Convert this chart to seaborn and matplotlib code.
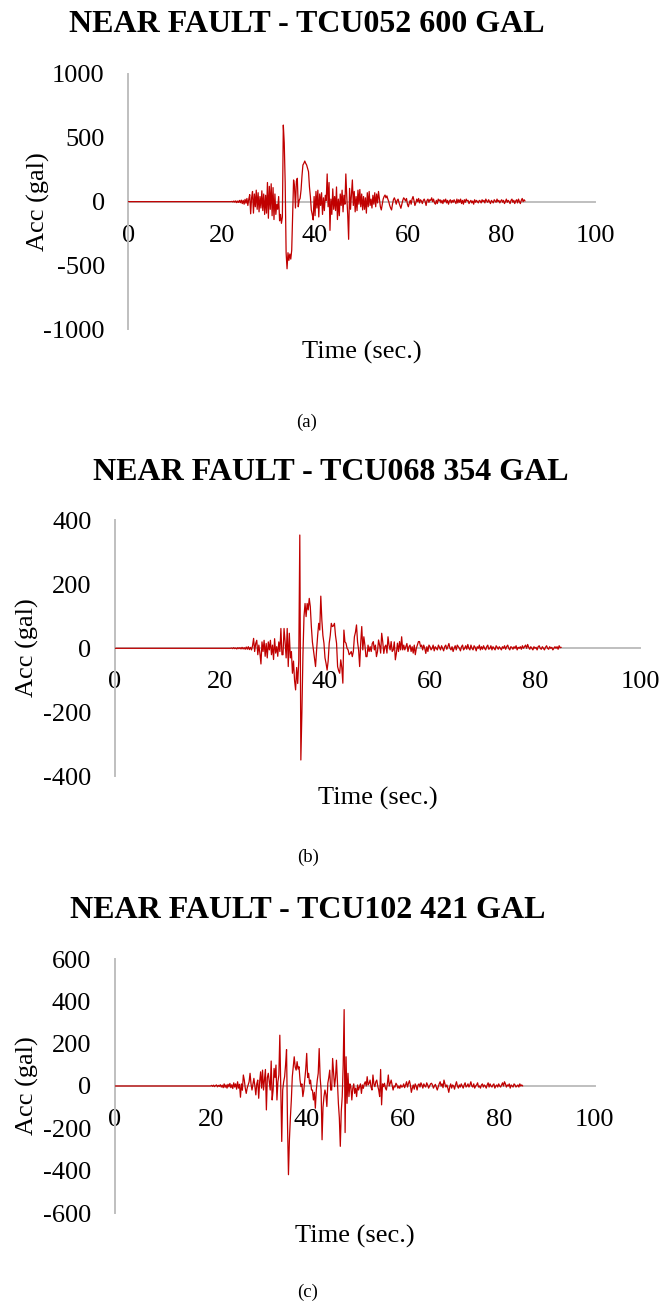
import numpy as np
import pandas as pd
import matplotlib
matplotlib.use("Agg")
import matplotlib.pyplot as plt
import seaborn as sns

# ---------------------------------------------------------------------------
# Ground-motion records (acceleration in gal), sampled every 0.2 s from 20 s.
# Before 20 s each record is at rest (0 gal).
# ---------------------------------------------------------------------------
SAMPLE_START = 20.0
SAMPLE_STEP = 0.2

acc_tcu052 = [
    0, 0, 0, 0, 0, 0, 0, 0, 0, 0,                      # 20 s
    0, 2, -3, 5, -4, 6, -8, 5, -6, 10,                 # 22 s
    -8, 12, -15, 10, -20, 18, -12, 25, -30, 20,        # 24 s
    55, -95, 30, 80, -90, 60, -40, 90, -60, 70,        # 26 s
    -80, 40, -50, 85, -70, 60, -100, 50, -90, 150,     # 28 s
    -130, 120, -60, 140, -110, 110, -140, 60, -100, -20,  # 30 s
    -60, 40, -150, -100, -170, -120, 600, 460, 150, -400,  # 32 s
    -526, -400, -460, -410, -450, -380, -90, 170, 120, -50,  # 34 s
    160, 183, -40, 10, 26, 91, 200, 287, 300, 318,     # 36 s
    300, 287, 260, 235, 117, 40, -65, -100, -143, 40,  # 38 s
    -110, 80, -50, 90, -120, 60, -30, 70, -100, 30,    # 40 s
    -70, 50, 10, 217, -40, 150, -225, 20, -100, 100,   # 42 s
    -60, 40, -70, 115, -140, 20, -110, 60, -30, 90,    # 44 s
    -80, 50, -20, 217, 40, -100, -295, 104, -60, 60,   # 46 s
    170, -30, 80, -80, 40, -70, 90, -20, 95, -40,      # 48 s
    60, -65, 40, -60, 30, -90, 70, -40, 80, -30,       # 50 s
    20, -50, 50, -20, 70, -40, 60, -10, 80, 20,        # 52 s
    -40, -65, -20, 20, 40, 52, 30, 45, 20, 0,          # 54 s
    -30, -50, -65, -20, 15, 30, 10, -20, 10, 20,       # 56 s
    -10, -30, -52, -20, 10, 30, 20, 5, 25, -20,        # 58 s
    -40, -10, 10, -20, 20, 40, 10, -30, -10, 20,       # 60 s
    0, 25, -10, 15, 5, -15, 10, 20, 0, -30,            # 62 s
    10, 20, -5, 15, 10, 30, 0, 20, -10, -20,           # 64 s
    10, -15, 20, 5, 15, -10, 10, -15, 15, 0,           # 66 s
    20, -10, 10, -20, 5, 15, -10, 10, -5, 15,          # 68 s
    0, -15, 20, -10, 15, -5, 20, -15, 10, -20,         # 70 s
    15, -5, 20, 5, 10, -15, 0, 10, -10, 5,             # 72 s
    -20, 15, -5, 10, 0, -10, 10, 5, -10, 15,           # 74 s
    0, 10, -10, 20, 5, -5, 15, 0, -15, 10,             # 76 s
    0, -10, 15, 5, -5, 20, 0, 10, -10, 5,              # 78 s
    15, -5, 10, -15, 0, 20, -5, 10, 0, -15,            # 80 s
    10, 20, -5, 10, -15, 5, 15, -10, 20, 0,            # 82 s
    -15, 10, 25, 0, 15, 5,                             # 84 s
]

acc_tcu068 = [
    0, 0, 0, 0, 0, 0, 0, 0, 0, 0,                      # 20 s
    0, 1, -1, 2, -1, 1, -2, 2, -1, 2,                  # 22 s
    -2, 3, -2, 2, -3, 4, -3, 5, -4, 3,                 # 24 s
    -5, 8, 31, -10, 15, 25, -20, 10, -15, -49,         # 26 s
    20, -10, 25, -25, 15, -30, 20, -5, 25, -20,        # 28 s
    10, -35, 30, -15, 5, -25, 20, -10, 62, -20,        # 30 s
    -20, 62, 20, -30, 62, -57, 47, -30, -10, -78,      # 32 s
    -40, -100, -130, -60, -110, -40, 354, -349, -200, -20,  # 34 s
    100, 140, 99, 140, 120, 156, 130, 68, 20, -5,      # 36 s
    -30, -57, -5, 40, 78, 57, 163, 88, 40, 16,         # 38 s
    -30, -47, -68, -40, 16, 40, 78, 68, 70, 78,        # 40 s
    40, 16, -57, -70, -78, -36, -60, -109, 57, 20,     # 42 s
    16, 0, -5, -20, -16, -10, -26, -10, 36, 50,        # 44 s
    73, 20, -5, -57, 16, 68, -5, 36, 10, -26,          # 46 s
    -26, 10, -10, 5, -10, 15, 21, -5, 10, -26,         # 48 s
    -10, 26, 10, -15, 47, 20, -16, 5, 10, -15,         # 50 s
    36, 10, -5, 21, -10, -5, 20, -36, -15, 16,         # 52 s
    -10, 21, -5, 36, -5, 10, -5, 5, 15, -10,           # 54 s
    5, 10, -10, 5, -15, 10, -20, 0, 10, 21,            # 56 s
    21, 5, 10, -5, 10, 0, -16, 5, -10, 10,             # 58 s
    5, -5, 0, 10, -8, 5, 0, -5, 10, 3,                 # 60 s
    -5, 8, 0, -8, 5, 10, -3, 5, 15, 0,                 # 62 s
    -5, 5, -10, 0, 8, -5, 10, 5, 0, -8,                # 64 s
    5, 10, -5, 0, 8, -3, 12, 0, -5, 10,                # 66 s
    0, -5, 8, 3, -8, 5, 0, 10, -5, 5,                  # 68 s
    -3, 8, 0, -5, 5, 10, -3, 0, 8, -5,                 # 70 s
    5, 0, -5, 8, 3, -3, 5, 0, -5, 5,                   # 72 s
    0, 8, -3, 5, 10, 0, -5, 5, 3, -3,                  # 74 s
    5, 0, 8, -5, 3, 0, 5, -3, 8, 0,                    # 76 s
    5, 10, 0, 12, 3, -3, 5, 0, -5, 5,                  # 78 s
    0, 3, -5, 5, 8, 0, -3, 5, 0, -5,                   # 80 s
    3, 8, 0, -3, 5, 0, 3, -5, 0, 5,                    # 82 s
    0, 5, -3, 8, 2, 3,                                 # 84 s
]

acc_tcu102 = [
    0, 3, -2, 4, -3, 2, 5, -4, 3, -2,                  # 20 s
    6, -5, 4, -8, 10, -6, 5, -10, 8, -4,               # 22 s
    12, -8, 6, -12, 15, -5, 10, -15, 20, -10,          # 24 s
    8, -53, 10, -20, 52, 28, -10, -35, -10, 5,         # 26 s
    20, 60, 10, -19, 10, 36, 0, -42, 10, 28,           # 28 s
    -58, 20, 67, -10, 75, -19, 30, 78, -113, 40,       # 30 s
    60, 20, -19, 118, -66, -20, 83, 40, 99, -66,       # 32 s
    20, 52, 240, -19, -262, -19, 20, 44, 100, 172,     # 34 s
    -176, -419, -254, -150, -66, 44, 90, 138, 90, 75,  # 36 s
    115, 80, 91, 30, -3, 10, -50, -20, 28, 80,         # 38 s
    154, 40, 60, 10, 28, -19, -19, -66, -30, -105,     # 40 s
    -20, 28, 60, 177, 40, -19, -254, -100, -50, -19,   # 42 s
    -40, -97, 13, 40, 75, -19, -19, 130, 60, -3,       # 44 s
    40, 122, 20, -82, -150, -285, -120, -50, 99, 361,  # 46 s
    -220, 138, -82, 60, -50, 10, -3, -66, -11, 10,     # 48 s
    -35, -10, -50, 5, -19, -3, 10, -35, 5, -11,        # 50 s
    10, 20, 0, 44, 5, 13, 28, -5, -19, 52,             # 52 s
    10, -3, 20, 28, 0, -19, -50, 78, -89, 10,          # 54 s
    -3, 13, -10, -19, 10, 52, 0, 13, 28, 5,            # 56 s
    -19, 0, -5, 13, 5, -10, 0, -11, 5, -5,             # 58 s
    -3, 10, -8, 5, 20, -5, 12, 25, 5, -30,             # 60 s
    -10, 5, -15, 10, 0, -19, 5, 10, -5, 15,            # 62 s
    5, -10, 10, 0, -5, 15, 5, -10, 0, 10,              # 64 s
    13, 5, -10, 0, 8, -5, -19, -5, 10, 20,             # 66 s
    0, 10, -8, 28, 10, -5, 5, -10, -30, -5,            # 68 s
    10, -10, 5, 0, -15, 5, 20, 0, -10, 5,              # 70 s
    -5, 10, 0, -10, 5, 15, -5, 0, 10, -5,              # 72 s
    5, 20, 0, -5, 10, -10, 0, 5, 15, -5,               # 74 s
    0, -10, 5, 10, -5, 5, 0, -10, 5, 15,               # 76 s
    -5, 10, 0, -5, 5, 10, -10, 0, 5, -5,               # 78 s
    10, 0, -5, 5, 15, 0, 20, 10, -5, 5,                # 80 s
    0, 10, -10, 5, 0, -5, 10, 5, -5, 0,                # 82 s
    5, -5, 10, 0, 5, 0,                                # 84 s
]

titles = ["NEAR FAULT - TCU052 600 GAL",
          "NEAR FAULT - TCU068 354 GAL",
          "NEAR FAULT - TCU102 421 GAL"]
panel_tags = ["(a)", "(b)", "(c)"]
y_limits = [1000, 400, 600]
y_steps = [500, 200, 200]
x_ticks = [0, 20, 40, 60, 80, 100]


def record_frame(acc):
    t = SAMPLE_START + SAMPLE_STEP * np.arange(len(acc))
    t = np.concatenate([[0.0], t])
    a = np.concatenate([[0.0], np.asarray(acc, dtype=float)])
    return pd.DataFrame({"Time (sec.)": t, "Acc (gal)": a})


sns.set_theme(style="white")
plt.rcParams["font.family"] = ["Liberation Serif", "DejaVu Serif"]
plt.rcParams["axes.unicode_minus"] = False
plt.rcParams["text.color"] = "black"

W, H = 662, 1304
fig = plt.figure(figsize=(W / 100, H / 100), dpi=100)


def px_axes(left, top, right, bottom):
    return fig.add_axes([left / W, 1 - bottom / H, (right - left) / W, (bottom - top) / H])


# panel boxes in pixels: left, top, right, bottom
boxes = [(128.4, 74.0, 595.0, 329.3),
         (115.0, 520.3, 640.0, 776.3),
         (114.7, 959.0, 594.7, 1213.0)]
title_pos = [(307, 25), (331, 472), (308, 910)]
xlabel_pos = [(362, 352), (378, 798), (355, 1236)]
ylabel_pos = [(38, 202), (27, 648), (27, 1086)]
tag_pos = [(307, 422), (308, 857), (308, 1292)]

grid_grey = "#BFBFBF"
trace_red = "#C00000"

records = [acc_tcu052, acc_tcu068, acc_tcu102]

for i, acc in enumerate(records):
    ax = px_axes(*boxes[i])
    df = record_frame(acc)
    sns.lineplot(data=df, x="Time (sec.)", y="Acc (gal)", ax=ax, color=trace_red,
                 linewidth=0.9, estimator=None, sort=False, zorder=3)
    lim = y_limits[i]
    ax.set_xlim(0, 100)
    ax.set_ylim(-lim, lim)
    ax.set_xticks(x_ticks)
    ax.set_yticks(np.arange(-lim, lim + 1, y_steps[i]))
    ax.set_xlabel("")
    ax.set_ylabel("")
    for side in ("top", "right"):
        ax.spines[side].set_visible(False)
    ax.spines["bottom"].set_position(("data", 0))
    for side in ("left", "bottom"):
        ax.spines[side].set_color(grid_grey)
        ax.spines[side].set_linewidth(1.4)
        ax.spines[side].set_zorder(1)
    ax.tick_params(axis="both", length=0, labelsize=19, colors="black")
    ax.tick_params(axis="x", pad=16.5)
    ax.tick_params(axis="y", pad=17)
    ax.patch.set_alpha(0)

    fig.text(title_pos[i][0] / W, 1 - title_pos[i][1] / H, titles[i],
             ha="center", va="center", fontsize=23, fontweight="bold", color="black")
    fig.text(xlabel_pos[i][0] / W, 1 - xlabel_pos[i][1] / H, "Time (sec.)",
             ha="center", va="center", fontsize=19, color="black")
    fig.text(ylabel_pos[i][0] / W, 1 - ylabel_pos[i][1] / H, "Acc (gal)",
             ha="center", va="center", fontsize=19, rotation=90, color="black")
    fig.text(tag_pos[i][0] / W, 1 - tag_pos[i][1] / H, panel_tags[i],
             ha="center", va="center", fontsize=13.5, color="black")

fig.savefig("out.png", dpi=100, facecolor="white")
